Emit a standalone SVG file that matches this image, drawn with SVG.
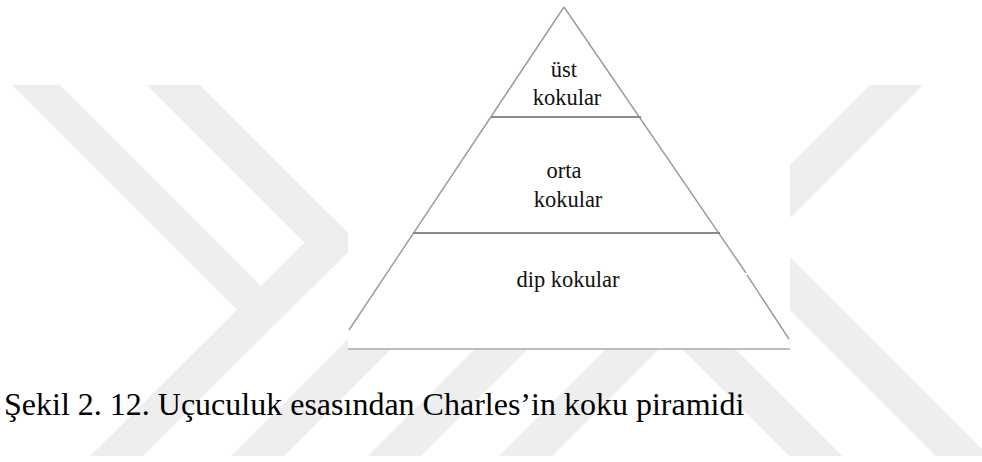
<svg xmlns="http://www.w3.org/2000/svg" width="982" height="462" viewBox="0 0 982 462">
  <style>
    .wm { fill: #eeeeee; }
    .edge { stroke: #999999; stroke-width: 1.4; fill: none; }
    .sep { stroke: #8a8a8a; stroke-width: 1.8; fill: none; }
    .lbl { font-family: "Liberation Serif", "Times New Roman", serif; font-size: 22.5px; fill: #111111; text-anchor: middle; }
    .cap { font-family: "Liberation Serif", "Times New Roman", serif; font-size: 32px; fill: #000000; }
  </style>
  <rect x="0" y="0" width="982" height="462" fill="#ffffff"/>
  <g id="watermark">
    <polygon class="wm" points="12,85 60,85 261,286 237,310"/>
    <polygon class="wm" points="147,85 200,85 357.5,242.5 331,269"/>
    <polygon class="wm" points="90,456 143,456 357.5,242.5 331,216"/>
    <polygon class="wm" points="231,456 284,456 440,300 387,300"/>
    <polygon class="wm" points="368,456 421,456 577,300 524,300"/>
    <polygon class="wm" points="870,85 923,85 552,456 499,456"/>
    <polygon class="wm" points="633,300 686,300 842,456 789,456"/>
    <polygon class="wm" points="680,200 733,200 989,456 936,456"/>
  </g>
  <g id="pyramid">
    <rect x="348" y="0" width="442" height="349" fill="#ffffff"/>
    <line x1="348" y1="349" x2="790" y2="349" stroke="#a8a8a8" stroke-width="1.5"/>
    <g id="connectors">
      <line class="edge" x1="564" y1="7" x2="349" y2="330"/>
      <line class="edge" x1="564" y1="7" x2="746" y2="273"/>
      <line class="edge" x1="747" y1="275" x2="789" y2="339"/>
      <line class="sep" x1="491" y1="117" x2="641" y2="117"/>
      <line class="sep" x1="413" y1="233" x2="720" y2="233"/>
    </g>
    <g id="tier-top">
      <text class="lbl" x="564" y="77">üst</text>
      <text class="lbl" x="567" y="105">kokular</text>
    </g>
    <g id="tier-middle">
      <text class="lbl" x="564" y="178">orta</text>
      <text class="lbl" x="568" y="207">kokular</text>
    </g>
    <g id="tier-bottom">
      <text class="lbl" x="568" y="287">dip kokular</text>
    </g>
  </g>
  <g id="caption">
    <text class="cap" x="4" y="415">Şekil 2. 12. Uçuculuk esasından Charles’in koku piramidi</text>
  </g>
</svg>
